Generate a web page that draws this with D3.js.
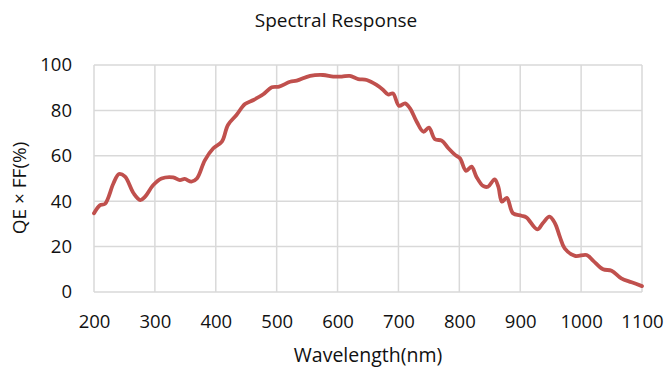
<!DOCTYPE html>
<html>
<head>
<meta charset="utf-8">
<script src="https://cdn.jsdelivr.net/npm/d3@7"></script>
<style>
  body { margin: 0; background: #fff; }
  text { font-family: "Open Sans", "Liberation Sans", sans-serif; fill: #111; }
</style>
</head>
<body>
<div id="chart"></div>
<script>
// wavelength (nm) and QE x FF (%)
const wavelength = [200, 210, 218, 232, 241, 251, 265, 276, 284, 297, 311, 330, 341, 349, 360, 369,
  382, 396, 410, 420, 434, 448, 462, 478, 492, 504, 522, 533, 555, 576, 593, 607, 620, 634, 648,
  664, 675, 683, 691, 701, 711, 719, 730, 741, 750, 760, 771, 782, 793, 801, 811, 820, 828, 839,
  847, 858, 864, 870, 878, 888, 902, 910, 928, 937, 948, 957, 965, 973, 990, 1009, 1020, 1036,
  1050, 1066, 1083, 1100];
const qe = [34.7, 38.3, 38.8, 47.9, 52, 50.8, 43.5, 40.5, 42, 47, 50, 50.5, 49.3, 49.8, 48.6, 50,
  58, 63.3, 66.2, 73.6, 78, 82.8, 84.6, 87.1, 90.2, 90.5, 92.6, 93.1, 95.2, 95.6, 94.9, 94.9, 95.2, 93.8, 93.4,
  91.2, 89, 87, 87.5, 82, 83.1, 80.9, 75, 70.6, 72.4, 67.3, 66.7, 63.3, 60.4, 58.9, 53.4, 55.2, 50.8, 46.7,
  46.4, 49.6, 46.4, 39.8, 41.5, 34.7, 33.6, 32.9, 27.6, 30.3, 33.2, 30.3, 24.4, 19.2, 15.9, 16.3, 13.7, 10,
  9.4, 6, 4.3, 2.6];
const xTicks = [200, 300, 400, 500, 600, 700, 800, 900, 1000, 1100];
const yTicks = [0, 20, 40, 60, 80, 100];

const width = 668, height = 367;
const margin = { top: 65, right: 26, bottom: 75, left: 94 };

const svg = d3.select("#chart")
  .append("svg")
  .attr("width", width)
  .attr("height", height);

const x = d3.scaleLinear()
  .domain([200, 1100])
  .range([margin.left, width - margin.right]);
const y = d3.scaleLinear()
  .domain([0, 100])
  .range([height - margin.bottom, margin.top]);

// grid
svg.append("g")
  .selectAll("line.v")
  .data(xTicks)
  .enter()
  .append("line")
  .attr("x1", d => x(d)).attr("x2", d => x(d))
  .attr("y1", y(0)).attr("y2", y(100))
  .attr("stroke", "#d9d9d9").attr("stroke-width", 1.5);
svg.append("g")
  .selectAll("line.h")
  .data(yTicks)
  .enter()
  .append("line")
  .attr("x1", x(200)).attr("x2", x(1100))
  .attr("y1", d => y(d)).attr("y2", d => y(d))
  .attr("stroke", "#d9d9d9").attr("stroke-width", 1.5);

// axes (labels only)
const xAxis = svg.append("g")
  .attr("transform", "translate(0," + y(0) + ")")
  .call(d3.axisBottom(x).tickValues(xTicks).tickSize(0).tickPadding(23).tickFormat(d3.format("d")));
const yAxis = svg.append("g")
  .attr("transform", "translate(" + x(200) + ",0)")
  .call(d3.axisLeft(y).tickValues(yTicks).tickSize(0).tickPadding(22));
[xAxis, yAxis].forEach(a => {
  a.select(".domain").remove();
  a.selectAll("text").attr("font-size", 18.5).attr("fill", "#111")
    .attr("font-family", "'Open Sans', sans-serif");
});

// curve
const line = d3.line()
  .x((d, i) => x(wavelength[i]))
  .y(d => y(d))
  .curve(d3.curveCatmullRom.alpha(0.5));
svg.append("path")
  .datum(qe)
  .attr("fill", "none")
  .attr("stroke", "#c0504d")
  .attr("stroke-width", 3.8)
  .attr("stroke-linejoin", "round")
  .attr("stroke-linecap", "round")
  .attr("d", line);

// titles
svg.append("text")
  .attr("x", 336).attr("y", 27)
  .attr("text-anchor", "middle")
  .attr("font-size", 19)
  .text("Spectral Response");
svg.append("text")
  .attr("x", 368).attr("y", 362)
  .attr("text-anchor", "middle")
  .attr("font-size", 19.5)
  .text("Wavelength(nm)");
svg.append("text")
  .attr("transform", "translate(26,188) rotate(-90)")
  .attr("text-anchor", "middle")
  .attr("font-size", 19)
  .text("QE × FF(%)");
</script>
</body>
</html>
